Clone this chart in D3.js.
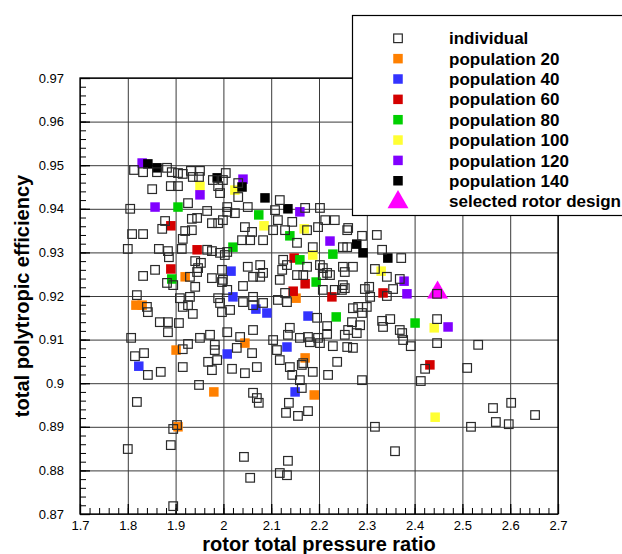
<!DOCTYPE html>
<html>
<head>
<meta charset="utf-8">
<script src="https://cdn.jsdelivr.net/npm/d3@7"></script>
<style>
body { margin: 0; background: #fff; }
text { font-family: "Liberation Sans", Arial, Helvetica, sans-serif; }
</style>
</head>
<body>
<div id="chart"></div>
<script>

// tick labels
let xTicks = [1.7, 1.8, 1.9, 2.0, 2.1, 2.2, 2.3, 2.4, 2.5, 2.6, 2.7];
let yTicks = [0.87, 0.88, 0.89, 0.90, 0.91, 0.92, 0.93, 0.94, 0.95, 0.96, 0.97];

// every evaluated individual: [rotor total pressure ratio, total polytropic efficiency]
let individual = [
    [1.813,0.9489],[1.832,0.9484],[1.861,0.9484],[1.882,0.9494],[1.892,0.9484],[1.905,0.9482],
    [1.915,0.948],[1.932,0.9487],[1.951,0.9487],[1.936,0.9473],[1.949,0.9473],[1.978,0.9466],
    [1.989,0.9452],[2.005,0.9482],[2.031,0.9459],[1.851,0.9445],[1.890,0.9452],[1.905,0.9452],
    [1.993,0.9436],[1.999,0.9466],[2.031,0.9427],[2.051,0.9404],[2.008,0.9393],[2.024,0.939],
    [1.999,0.9374],[2.045,0.9358],[2.039,0.9328],[2.060,0.9347],[2.056,0.9328],[2.083,0.9328],
    [2.104,0.9351],[2.108,0.9397],[2.118,0.942],[2.114,0.9374],[2.144,0.937],[2.129,0.9351],
    [2.175,0.9351],[2.198,0.9358],[2.202,0.9402],[2.171,0.9402],[2.213,0.9374],[2.233,0.9374],
    [2.259,0.9351],[2.008,0.9301],[2.003,0.9294],[2.051,0.9267],[2.083,0.9253],[2.077,0.9271],
    [2.125,0.9283],[2.133,0.9271],[2.123,0.926],[2.154,0.9322],[2.187,0.9312],[2.202,0.9271],
    [2.208,0.9264],[2.223,0.9248],[2.254,0.9255],[2.175,0.9267],
    [1.926,0.9413],[1.966,0.9395],[1.805,0.94],[1.878,0.9372],[1.872,0.9354],[1.945,0.9379],
    [1.934,0.9377],[1.976,0.9367],[1.989,0.9367],[1.920,0.9349],[1.934,0.9351],[1.915,0.9331],
    [1.809,0.9342],[1.832,0.9342],[1.800,0.9308],[1.865,0.9308],[1.884,0.9303],[1.886,0.9289],
    [1.913,0.9308],[1.966,0.9306],[1.976,0.9303],[1.941,0.928],[1.947,0.9264],[1.953,0.9276],
    [1.857,0.926],[1.832,0.9246],[1.997,0.926],[1.976,0.9241],[1.993,0.9299],[2.008,0.9404],
    [1.882,0.923],[1.895,0.9225],[1.930,0.9244],[1.945,0.9255],[1.997,0.9232],[1.941,0.9221],
    [1.909,0.9195],[1.930,0.9198],[1.915,0.9175],[1.926,0.9179],[1.936,0.9159],[1.989,0.9195],
    [1.993,0.9184],[1.997,0.9163],[1.819,0.9202],[1.842,0.9163],[1.840,0.9175],[1.867,0.914],
    [1.884,0.914],[1.907,0.9138],[1.884,0.9117],[1.807,0.9104],[1.972,0.9111],[1.951,0.9104],
    [1.926,0.909],[1.915,0.9078],[1.982,0.9088],[1.982,0.9076],[1.987,0.9053],[1.968,0.9049],
    [1.976,0.903],[2.008,0.9117],[1.815,0.9062],[1.834,0.9069],[1.842,0.9019],[1.869,0.9026],
    [1.915,0.9037],[1.949,0.8996],[1.819,0.8957],
    [1.999,0.9237],[2.008,0.9214],[2.041,0.9223],[2.062,0.9244],[2.077,0.9244],[2.062,0.9198],
    [2.041,0.9186],[2.014,0.9168],[2.062,0.9179],[2.083,0.9184],[2.118,0.9237],[2.114,0.9191],
    [2.133,0.9186],[2.129,0.9207],[2.154,0.9248],[2.167,0.9248],[2.208,0.9248],[2.217,0.9253],
    [2.208,0.9214],[2.233,0.9214],[2.250,0.9225],[2.196,0.915],[2.217,0.9131],[2.261,0.9122],
    [2.259,0.9083],[2.035,0.9106],[2.028,0.9081],[2.060,0.9069],[2.062,0.9122],[2.104,0.9099],
    [2.112,0.9076],[2.139,0.9127],[2.135,0.9111],[2.160,0.9104],[2.198,0.9104],[2.181,0.9094],
    [2.118,0.9053],[2.139,0.9037],[2.164,0.9042],[2.144,0.9019],[2.160,0.9007],[2.018,0.9033],
    [2.045,0.9023],[2.070,0.9037],[2.219,0.9019],[2.238,0.9049],[2.062,0.8978],[2.070,0.8966],
    [2.074,0.8955],[2.137,0.8955],[2.131,0.8932],[2.156,0.8925],[1.903,0.8904],[1.895,0.8895],
    [1.890,0.8858],[1.800,0.8849],[2.043,0.8831],[2.135,0.8822],[2.056,0.8783],[2.118,0.8794],
    [2.133,0.8789],[1.895,0.8718],
    [2.177,0.9106],[2.202,0.9092],[2.217,0.9113],[2.229,0.9085],[2.254,0.9111],[2.271,0.9081],
    [2.279,0.9115],[2.376,0.9099],[2.392,0.9085],[2.374,0.9115],[2.447,0.9092],[2.533,0.9088],
    [2.167,0.9046],[2.187,0.9026],[2.164,0.8989],[2.290,0.9007],[2.422,0.9033],[2.413,0.9005],
    [2.510,0.9035],[2.177,0.8936],[2.317,0.89],[2.359,0.8844],[2.564,0.8943],[2.602,0.8955],
    [2.570,0.8911],[2.597,0.8906],[2.518,0.89],[2.652,0.8927],
    [2.261,0.9356],[2.290,0.9338],[2.321,0.934],[2.332,0.9306],[2.372,0.9287],[2.250,0.9312],
    [2.259,0.9312],[2.250,0.9267],[2.271,0.9267],[2.317,0.9262],[2.342,0.9244],[2.369,0.9239],
    [2.355,0.9216],[2.342,0.92],[2.305,0.9221],[2.296,0.9216],[2.254,0.9218],[2.248,0.9214],
    [2.307,0.9198],[2.300,0.9175],[2.282,0.9175],[2.271,0.9172],[2.290,0.9161],[2.332,0.9143],
    [2.349,0.9147],[2.334,0.9129],[2.369,0.9122],[2.447,0.9147],[2.286,0.9133],[2.269,0.914],
    [2.447,0.9205]
];

// members of the population at each generation
let pop20 = [[1.817,0.9179],[1.830,0.9179],[1.920,0.9244],[1.901,0.9076],[1.980,0.898],
    [1.905,0.89],[2.045,0.9092],[2.171,0.9058],[2.190,0.8973],[2.152,0.9195]];
let pop40 = [[1.823,0.9039],[2.008,0.9067],[2.016,0.9257],[2.020,0.9198],[2.068,0.917],
    [2.091,0.9161],[2.177,0.9154],[2.133,0.9083],[2.150,0.898]];
let pop60 = [[1.890,0.9361],[1.945,0.9306],[1.890,0.9262],[2.148,0.9287],[2.171,0.9228],
    [2.146,0.9211],[2.227,0.9198],[2.334,0.9207],[2.432,0.9042]];
let pop80 = [[1.905,0.9404],[1.892,0.9239],[2.074,0.9386],[2.139,0.9338],[2.020,0.9312],
    [2.229,0.9296],[2.160,0.9283],[2.194,0.9232],[2.236,0.9152],[2.401,0.9138]];
let pop100 = [[1.951,0.9452],[2.024,0.9443],[2.085,0.9361],[2.169,0.9354],[2.187,0.9294],
    [2.330,0.9257],[2.441,0.9127],[2.443,0.8922]];
let pop120 = [[1.830,0.9505],[1.857,0.9404],[1.951,0.9432],[2.041,0.9468],[2.160,0.9393],
    [2.223,0.9326],[2.378,0.9234],[2.384,0.9205],[2.470,0.9129]];
let pop140 = [[1.842,0.9503],[1.861,0.9494],[1.987,0.9471],[2.039,0.945],[2.087,0.9425],
    [2.135,0.94],[2.279,0.9319],[2.292,0.9299],[2.344,0.9287]];
let selected = [[2.448,0.9208]];

let popNames = ["population 20", "population 40", "population 60", "population 80",
    "population 100", "population 120", "population 140"];
let popColors = ["#ff8000", "#3333ff", "#d40000", "#00d000", "#ffff33", "#8000ff", "#000000"];
let pops = [pop20, pop40, pop60, pop80, pop100, pop120, pop140];


let svg = d3.select("#chart")
    .append("svg")
    .attr("width", 622)
    .attr("height", 554);

let x = d3.scaleLinear().domain([1.7, 2.7]).range([80, 558]);
let y = d3.scaleLinear().domain([0.87, 0.97]).range([514, 78]);

let fmt = d => String(+d.toFixed(2));
let xMinor = d3.range(170, 271, 2).map(d => d / 100);
let yMinor = d3.range(870, 971, 2).map(d => d / 1000);

// grid
svg.append("g")
    .attr("transform", "translate(0,514)")
    .call(d3.axisBottom(x).tickValues(xTicks).tickSize(-436).tickFormat(""))
    .call(g => g.select(".domain").remove())
    .selectAll("line")
    .attr("stroke", "#3a3a3a");

svg.append("g")
    .attr("transform", "translate(80,0)")
    .call(d3.axisLeft(y).tickValues(yTicks).tickSize(-478).tickFormat(""))
    .call(g => g.select(".domain").remove())
    .selectAll("line")
    .attr("stroke", "#3a3a3a");

// frame
svg.append("rect")
    .attr("x", 80)
    .attr("y", 78)
    .attr("width", 478)
    .attr("height", 436)
    .attr("fill", "none")
    .style("stroke", "black")
    .style("stroke-width", 1.3);

// ticks, pointing inwards
svg.append("g")
    .attr("transform", "translate(0,514)")
    .call(d3.axisBottom(x).tickValues(xMinor).tickSize(-6).tickFormat(""))
    .call(g => g.select(".domain").remove())
    .selectAll("line").attr("stroke", "black");

let xAxis = svg.append("g")
    .attr("transform", "translate(0,514)")
    .call(d3.axisBottom(x).tickValues(xTicks).tickSize(-10).tickPadding(7).tickFormat(fmt))
    .call(g => g.select(".domain").remove());
xAxis.selectAll("line").attr("stroke", "black").attr("stroke-width", 1.3);
xAxis.selectAll("text")
    .attr("font-family", "'Liberation Sans', Arial, sans-serif")
    .attr("font-size", 13)
    .attr("fill", "black");

svg.append("g")
    .attr("transform", "translate(80,0)")
    .call(d3.axisLeft(y).tickValues(yMinor).tickSize(-6).tickFormat(""))
    .call(g => g.select(".domain").remove())
    .selectAll("line").attr("stroke", "black");

let yAxis = svg.append("g")
    .attr("transform", "translate(80,0)")
    .call(d3.axisLeft(y).tickValues(yTicks).tickSize(-10).tickPadding(16).tickFormat(fmt))
    .call(g => g.select(".domain").remove());
yAxis.selectAll("line").attr("stroke", "black").attr("stroke-width", 1.3);
yAxis.selectAll("text")
    .attr("font-family", "'Liberation Sans', Arial, sans-serif")
    .attr("font-size", 13)
    .attr("fill", "black");

// axis titles
svg.append("text")
    .attr("x", 319)
    .attr("y", 551)
    .attr("text-anchor", "middle")
    .attr("font-size", 20)
    .attr("font-weight", "bold")
    .text("rotor total pressure ratio");

svg.append("text")
    .attr("transform", "translate(29,296) rotate(-90)")
    .attr("text-anchor", "middle")
    .attr("font-size", 20)
    .attr("font-weight", "bold")
    .text("total polytropic efficiency");

// populations
let fs = 9.5;
pops.forEach((p, i) => {
    svg.append("g")
        .selectAll("rect")
        .data(p)
        .join("rect")
        .attr("x", d => x(d[0]) - fs / 2)
        .attr("y", d => y(d[1]) - fs / 2)
        .attr("width", fs)
        .attr("height", fs)
        .attr("fill", popColors[i]);
});

let tri = d3.symbol().type(d3.symbolTriangle).size(190);
svg.append("g")
    .selectAll("path")
    .data(selected)
    .join("path")
    .attr("d", tri)
    .attr("transform", d => "translate(" + x(d[0]) + "," + y(d[1]) + ")")
    .attr("fill", "#ff00ff");

// individuals, hollow, drawn last
let os = 8.6;
svg.append("g")
    .selectAll("rect")
    .data(individual)
    .join("rect")
    .attr("x", d => x(d[0]) - os / 2)
    .attr("y", d => y(d[1]) - os / 2)
    .attr("width", os)
    .attr("height", os)
    .attr("fill", "none")
    .style("stroke", "#2a2a2a")
    .style("stroke-width", 1.2);

// legend
let legend = svg.append("g");
legend.append("rect")
    .attr("x", 352.5)
    .attr("y", 15.5)
    .attr("width", 300)
    .attr("height", 200)
    .attr("fill", "white")
    .style("stroke", "black")
    .style("stroke-width", 1.2);

let rowY = i => 38.3 + i * 20.35;
legend.append("rect")
    .attr("x", 398 - os / 2)
    .attr("y", rowY(0) - os / 2)
    .attr("width", os)
    .attr("height", os)
    .attr("fill", "none")
    .style("stroke", "#2a2a2a")
    .style("stroke-width", 1.2);

popColors.forEach((c, i) => {
    legend.append("rect")
        .attr("x", 398 - fs / 2)
        .attr("y", rowY(i + 1) - fs / 2)
        .attr("width", fs)
        .attr("height", fs)
        .attr("fill", c);
});

legend.append("path")
    .attr("d", tri)
    .attr("transform", "translate(398," + (rowY(8) + 1) + ")")
    .attr("fill", "#ff00ff");

let legendLabels = ["individual"].concat(popNames, ["selected rotor design"]);
legend.selectAll("text.lab")
    .data(legendLabels)
    .join("text")
    .attr("class", "lab")
    .attr("x", 449)
    .attr("y", (d, i) => rowY(i))
    .attr("dy", "0.36em")
    .attr("font-size", 17)
    .attr("font-weight", "bold")
    .text(d => d);

</script>
</body>
</html>
